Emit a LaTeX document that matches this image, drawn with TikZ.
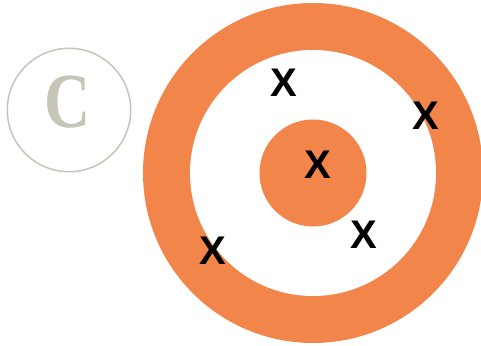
\documentclass[tikz,border=0pt]{standalone}
\usepackage{fontspec}
\newfontfamily\xfont{Liberation Sans}
\newfontfamily\cfont{Liberation Serif}
\definecolor{ringorange}{HTML}{F28549}
\definecolor{logogray}{HTML}{C6C5B8}
\tikzset{
  mark x/.style={font=\xfont\bfseries\fontsize{40}{40}\selectfont, text=black, inner sep=0pt, anchor=center},
}
\begin{document}
\begin{tikzpicture}[x=1pt,y=-1pt]
\useasboundingbox (0,0) rectangle (481,345);
\clip (0,0) rectangle (481,345);
\fill[white] (0,0) rectangle (481,345);
% logo
\draw[logogray, line width=1.5pt] (69,110) circle[radius=61.7];
\node[text=logogray, inner sep=0pt, xscale=0.82, font=\cfont\bfseries\fontsize{78}{78}\selectfont] (logo) at (68,102) {C};
% target
\fill[ringorange] (313,173) circle[radius=170];
\fill[white] (313,173) circle[radius=123];
\fill[ringorange] (313,173) circle[radius=53.5];
\node[mark x] (x1) at (284,82.8) {X};
\node[mark x] (x2) at (425.5,115.8) {X};
\node[mark x] (x3) at (318,164.5) {X};
\node[mark x] (x4) at (363.8,234.7) {X};
\node[mark x] (x5) at (212.8,250.8) {X};
\end{tikzpicture}
\end{document}
